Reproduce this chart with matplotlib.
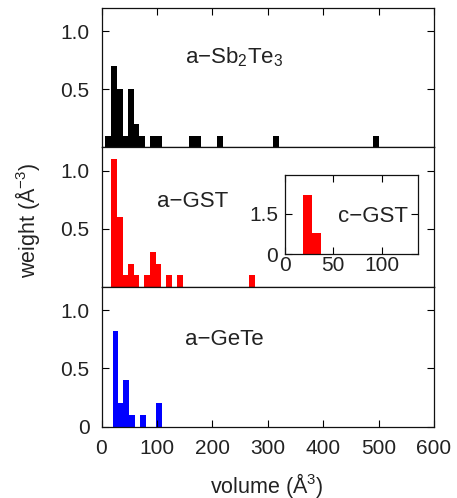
import matplotlib
matplotlib.use("Agg")
import matplotlib.pyplot as plt

plt.rcParams['font.family'] = ['Liberation Sans', 'DejaVu Sans']
plt.rcParams['mathtext.fontset'] = 'custom'
plt.rcParams['mathtext.rm'] = 'Liberation Sans'
plt.rcParams['mathtext.it'] = 'Liberation Sans:italic'
plt.rcParams['mathtext.default'] = 'regular'

# ---- data ----
sb_centers = [12, 22, 33, 43, 53.5, 63, 73, 92.7, 103.2, 163.8, 174.3, 214, 315, 496]
sb_weights = [0.1, 0.7, 0.5, 0.1, 0.5, 0.2, 0.1, 0.1, 0.1, 0.1, 0.1, 0.1, 0.1, 0.1]

gst_centers = [22, 33, 43, 53.5, 63, 82, 92.5, 102, 122, 142, 271.5]
gst_weights = [1.1, 0.6, 0.1, 0.2, 0.1, 0.1, 0.3, 0.2, 0.1, 0.1, 0.1]

gete_centers = [25.3, 34.9, 44.5, 55, 74.6, 103.5]
gete_weights = [0.82, 0.2, 0.4, 0.1, 0.1, 0.2]

cgst_centers = [23.5, 32.5]
cgst_weights = [2.2, 0.8]

xticks = [0, 100, 200, 300, 400, 500, 600]
yticks_upper = [0.5, 1.0]
yticks_upper_labels = ['0.5', '1.0']
yticks_lower = [0, 0.5, 1.0]
yticks_lower_labels = ['0', '0.5', '1.0']
inset_xticks = [0, 50, 100]
inset_yticks = [0, 1.5]
inset_yticklabels = ['0', '1.5']

W, H = 457, 498
fig = plt.figure(figsize=(W / 100, H / 100), dpi=100)

TXT = '#222222'
left = 101.5 / W
width = (434 - 101.5) / W
tops = [8.3, 147.5, 287.0]
bottom_px = 426.7

def fy(px):
    return 1 - px / H

axes = []
edges = tops + [bottom_px]
for i in range(3):
    b = fy(edges[i + 1])
    h = (edges[i + 1] - edges[i]) / H
    ax = fig.add_axes([left, b, width, h])
    axes.append(ax)

panels = [(sb_centers, sb_weights, 'black'),
          (gst_centers, gst_weights, '#ff0000'),
          (gete_centers, gete_weights, '#0000ff')]

for i, (ax, (c, w, col)) in enumerate(zip(axes, panels)):
    ax.bar(c, w, width=10.4, color=col, linewidth=0)
    ax.set_xlim(0, 600)
    ax.set_ylim(0, 1.2)
    ax.set_xticks(xticks)
    if i < 2:
        ax.set_yticks(yticks_upper)
        ax.set_yticklabels(yticks_upper_labels)
    else:
        ax.set_yticks(yticks_lower)
        ax.set_yticklabels(yticks_lower_labels)
    ax.tick_params(axis='y', direction='in', length=5, width=0.8, left=True, right=True,
                   labelsize=15, pad=8.5, labelcolor=TXT)
    if i == 0:
        ax.tick_params(axis='x', direction='in', length=5, width=0.8, top=True, bottom=False,
                       labelbottom=False, labeltop=False)
    elif i == 1:
        ax.tick_params(axis='x', which='both', top=False, bottom=False,
                       labelbottom=False, labeltop=False)
    else:
        ax.tick_params(axis='x', direction='in', length=5, width=0.8, top=False, bottom=True,
                       labelbottom=True, labelsize=15, pad=8.5, labelcolor=TXT)
    for s in ax.spines.values():
        s.set_linewidth(0.9)
        s.set_color('#111111')

# inset
ins = fig.add_axes([285.0 / W, fy(254.3), (418.3 - 285.0) / W, (254.3 - 175.0) / H])
ins.bar(cgst_centers, cgst_weights, width=9.0, color='#ff0000', linewidth=0)
ins.set_xlim(0, 138)
ins.set_ylim(0, 2.95)
ins.set_xticks(inset_xticks)
ins.set_yticks(inset_yticks)
ins.set_yticklabels(inset_yticklabels)
ins.tick_params(direction='in', length=5, width=0.8, top=True, right=True,
                labelsize=15, labelcolor=TXT)
ins.tick_params(axis='x', pad=1.5)
ins.tick_params(axis='y', pad=5)
for s in ins.spines.values():
    s.set_linewidth(0.9)
    s.set_color('#111111')

# labels
fig.text(185 / W, fy(63.3), 'a\u2212Sb$_2$Te$_3$', fontsize=16, color=TXT, ha='left', va='baseline')
fig.text(157 / W, fy(207.3), 'a\u2212GST', fontsize=16, color=TXT, ha='left', va='baseline')
fig.text(337.7 / W, fy(222.3), 'c\u2212GST', fontsize=16, color=TXT, ha='left', va='baseline')
fig.text(185 / W, fy(345), 'a\u2212GeTe', fontsize=16, color=TXT, ha='left', va='baseline')

fig.text(267 / W, fy(485), 'volume (\u00c5$^3$)', fontsize=15.5, color=TXT, ha='center', va='center')
fig.text(27 / W, fy(220), 'weight (\u00c5$^{\u22123}$)', fontsize=15.5, color=TXT, ha='center',
         va='center', rotation=90)

fig.savefig('out.png', dpi=100)
